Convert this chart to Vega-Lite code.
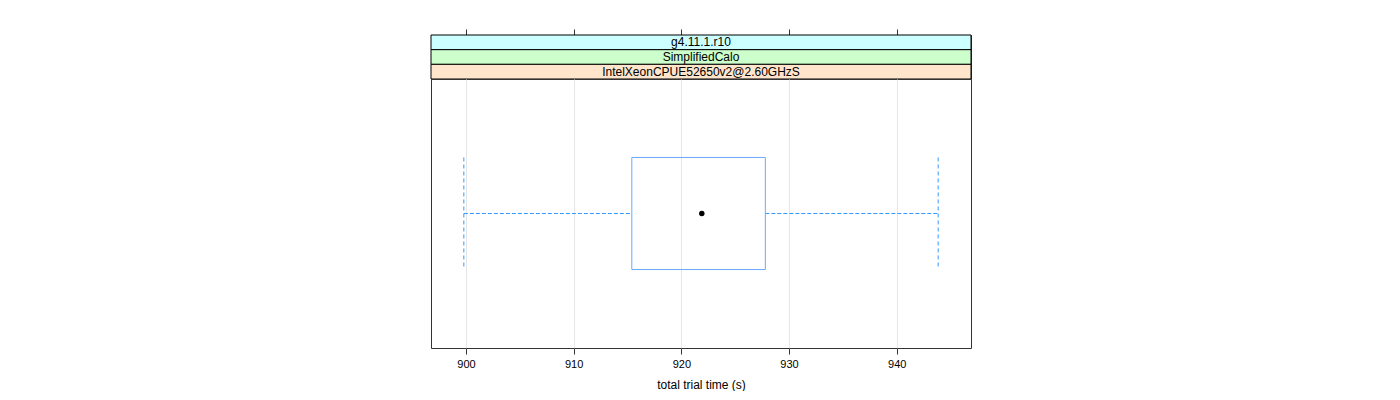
{
  "$schema": "https://vega.github.io/schema/vega-lite/v6.json",
  "padding": {"left": 430, "top": 28, "right": 0, "bottom": 0},
  "background": "white",
  "spacing": 0,
  "bounds": "flush",
  "config": {
    "view": {"stroke": "#333333", "strokeWidth": 1},
    "font": "Liberation Sans",
    "axis": {"labelFont": "Liberation Sans", "titleFont": "Liberation Sans", "labelColor": "#000", "titleColor": "#000", "tickColor": "#333", "domain": false}
  },
  "vconcat": [
    {
      "width": 540,
      "height": 44,
      "data": {"values": [
        {"strip": "g4.11.1.r10"},
        {"strip": "SimplifiedCalo"},
        {"strip": "IntelXeonCPUE52650v2@2.60GHzS"}
      ]},
      "encoding": {
        "y": {"field": "strip", "type": "nominal", "sort": ["g4.11.1.r10", "SimplifiedCalo", "IntelXeonCPUE52650v2@2.60GHzS"], "scale": {"paddingInner": 0, "paddingOuter": 0}, "axis": null}
      },
      "layer": [
        {
          "mark": {"type": "rect", "stroke": "#000", "strokeWidth": 1},
          "encoding": {
            "x": {"datum": 896.75, "type": "quantitative", "scale": {"domain": [896.75, 946.9], "nice": false, "zero": false},
              "axis": {"orient": "top", "labels": false, "ticks": true, "tickSize": 6, "domain": false, "grid": false, "title": null, "values": [900, 910, 920, 930, 940]}},
            "x2": {"datum": 946.9},
            "fill": {"field": "strip", "type": "nominal", "scale": {"domain": ["g4.11.1.r10", "SimplifiedCalo", "IntelXeonCPUE52650v2@2.60GHzS"], "range": ["#ccffff", "#ccffcc", "#ffe5cc"]}, "legend": null}
          }
        },
        {
          "mark": {"type": "text", "font": "Liberation Sans", "fontSize": 12, "color": "#000"},
          "encoding": {"text": {"field": "strip"}}
        }
      ]
    },
    {
      "width": 540,
      "height": 269,
      "data": {"values": [
        {"group": "a", "lower": 899.8, "q1": 915.4, "median": 921.9, "q3": 927.8, "upper": 943.85}
      ]},
      "encoding": {
        "y": {"field": "group", "type": "nominal", "scale": {"paddingInner": 0, "paddingOuter": 0.7}, "axis": null}
      },
      "layer": [
        {
          "mark": {"type": "rule", "stroke": "#3399ff", "strokeDash": [4, 2], "strokeWidth": 1},
          "encoding": {
            "x": {"field": "lower", "type": "quantitative", "scale": {"domain": [896.75, 946.9], "nice": false, "zero": false},
              "axis": {"orient": "bottom", "values": [900, 910, 920, 930, 940], "grid": true, "gridColor": "#e6e6e6", "tickSize": 6, "labelFontSize": 11, "labelPadding": 4, "title": "total trial time (s)", "titleFontSize": 12, "titleFontWeight": "normal", "titlePadding": 10}},
            "x2": {"field": "q1"}
          }
        },
        {
          "mark": {"type": "rule", "stroke": "#3399ff", "strokeDash": [4, 2], "strokeWidth": 1},
          "encoding": {
            "x": {"field": "q3", "type": "quantitative"},
            "x2": {"field": "upper"}
          }
        },
        {
          "mark": {"type": "rule", "stroke": "#3399ff", "strokeDash": [4, 3], "strokeWidth": 1},
          "encoding": {
            "x": {"field": "lower", "type": "quantitative"},
            "y": {"field": "group", "type": "nominal", "bandPosition": 0},
            "y2": {"field": "group", "bandPosition": 1}
          }
        },
        {
          "mark": {"type": "rule", "stroke": "#3399ff", "strokeDash": [4, 3], "strokeWidth": 1},
          "encoding": {
            "x": {"field": "upper", "type": "quantitative"},
            "y": {"field": "group", "type": "nominal", "bandPosition": 0},
            "y2": {"field": "group", "bandPosition": 1}
          }
        },
        {
          "mark": {"type": "rect", "fill": null, "stroke": "#66aaff", "strokeWidth": 1},
          "encoding": {
            "x": {"field": "q1", "type": "quantitative"},
            "x2": {"field": "q3"}
          }
        },
        {
          "mark": {"type": "point", "filled": true, "color": "#000", "size": 30, "opacity": 1},
          "encoding": {
            "x": {"field": "median", "type": "quantitative"}
          }
        }
      ]
    }
  ]
}
